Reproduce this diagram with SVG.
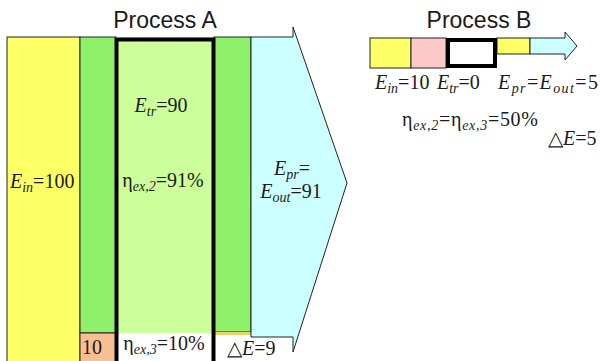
<svg xmlns="http://www.w3.org/2000/svg" width="601" height="361" viewBox="0 0 601 361">
<style>
.t{font-family:"Liberation Serif","Times New Roman",serif;font-size:20px;fill:#1a1a1a}
.h{font-family:"Liberation Sans",Arial,sans-serif;font-size:23px;fill:#1a1a1a}
.i{font-style:italic}
.s{font-size:14px;font-style:italic}
.ln{stroke:#222;stroke-width:1}
.bx{fill:none;stroke:#000;stroke-width:4}
</style>
<rect width="601" height="361" fill="#fff"/>
<g id="processA">
  <text class="h" x="165" y="28" text-anchor="middle">Process A</text>
  <rect x="7" y="37" width="73" height="326" fill="#ffff66" class="ln"/>
  <rect x="80" y="37" width="36" height="296" fill="#8ff06a" class="ln"/>
  <rect x="80" y="333" width="36" height="30" fill="#f8c090" class="ln"/>
  <rect x="116" y="37" width="98" height="296" fill="#ccff99"/>
  <rect x="214" y="37" width="37" height="295" fill="#8ff06a" class="ln"/>
  <rect x="214" y="332" width="37" height="3" fill="#e8d070"/>
  <polygon points="251,37 293,37 293,27 347,183 293,352 293,337 251,337" fill="#ccffff" class="ln"/>
  <rect x="116.5" y="39.5" width="97" height="324" class="bx"/>
  <text class="t" x="161" y="112" text-anchor="middle"><tspan class="i">E</tspan><tspan class="s" dy="4">tr</tspan><tspan dy="-4">=90</tspan></text>
  <text class="t" x="163" y="187" text-anchor="middle">η<tspan class="s" dy="4">ex,2</tspan><tspan dy="-4">=91%</tspan></text>
  <text class="t" x="10" y="188"><tspan class="i">E</tspan><tspan class="s" dy="4">in</tspan><tspan dy="-4">=100</tspan></text>
  <text class="t" x="292" y="175" text-anchor="middle"><tspan class="i">E</tspan><tspan class="s" dy="4">pr</tspan><tspan dy="-4">=</tspan></text>
  <text class="t" x="291" y="198" text-anchor="middle"><tspan class="i">E</tspan><tspan class="s" dy="4">out</tspan><tspan dy="-4">=91</tspan></text>
  <text class="t" x="82" y="354">10</text>
  <text class="t" x="164" y="350" text-anchor="middle">η<tspan class="s" dy="4">ex,3</tspan><tspan dy="-4">=10%</tspan></text>
  <text class="t" x="227" y="355">△<tspan class="i">E</tspan>=9</text>
</g>
<g id="processB">
  <text class="h" x="479" y="28" text-anchor="middle">Process B</text>
  <rect x="370" y="38" width="41" height="30" fill="#ffff66" class="ln"/>
  <rect x="411" y="38" width="35" height="30" fill="#ffc8c8" class="ln"/>
  <rect x="497" y="38" width="33" height="16" fill="#ffff66" class="ln"/>
  <polygon points="530,38 565,38 565,32 577,46 565,60 565,54 530,54" fill="#ccffff" class="ln"/>
  <rect x="448" y="40" width="47" height="26" fill="#fff" class="bx"/>
  <text class="t" x="375" y="89"><tspan class="i">E</tspan><tspan class="s" dy="4">in</tspan><tspan dy="-4">=10</tspan></text>
  <text class="t" x="437" y="89"><tspan class="i">E</tspan><tspan class="s" dy="4">tr</tspan><tspan dy="-4">=0</tspan></text>
  <text class="t" x="498" y="89" textLength="100" lengthAdjust="spacing"><tspan class="i">E</tspan><tspan class="s" dy="4">pr</tspan><tspan dy="-4">=</tspan><tspan class="i">E</tspan><tspan class="s" dy="4">out</tspan><tspan dy="-4">=5</tspan></text>
  <text class="t" x="402" y="126" textLength="136" lengthAdjust="spacing">η<tspan class="s" dy="4">ex,2</tspan><tspan dy="-4">=η</tspan><tspan class="s" dy="4">ex,3</tspan><tspan dy="-4">=50%</tspan></text>
  <text class="t" x="548" y="145">△<tspan class="i">E</tspan>=5</text>
</g>
<g id="connectors"/>
</svg>
